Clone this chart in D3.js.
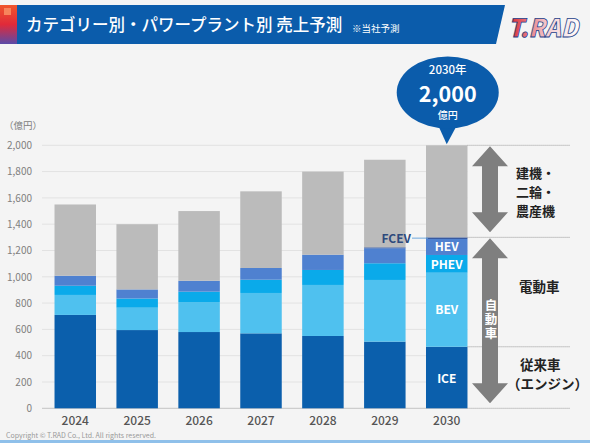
<!DOCTYPE html>
<html>
<head>
<meta charset="utf-8">
<script src="https://cdn.jsdelivr.net/npm/d3@7"></script>
<style>
  body { margin: 0; background: #f4f4f4; }
  text { font-family: "Noto Sans CJK JP", "Noto Sans", sans-serif; }
</style>
</head>
<body>
<div id="chart"></div>
<script>
// sales by category / power plant (100M yen)
var years = ["2024", "2025", "2026", "2027", "2028", "2029", "2030"];
var ice  = [710, 595, 580, 570, 550, 507, 468];
var bev  = [152, 170, 228, 307, 388, 469, 563];
var phev = [70, 70, 79, 101, 114, 127, 135];
var hev  = [76, 69, 83, 89, 116, 114, 122];
var fcev = [0, 0, 0, 0, 0, 7, 12];
var other = [542, 496, 530, 583, 632, 666, 700];
var yTicks = [0, 200, 400, 600, 800, 1000, 1200, 1400, 1600, 1800, 2000];

var width = 590, height = 443;

var svg = d3.select("#chart").append("svg")
    .attr("width", width)
    .attr("height", height);

var defs = svg.append("defs");
var g1 = defs.append("linearGradient").attr("id", "stripe").attr("x1", 0).attr("y1", 0).attr("x2", 0).attr("y2", 1);
g1.append("stop").attr("offset", "0%").attr("stop-color", "#f0562c");
g1.append("stop").attr("offset", "50%").attr("stop-color", "#e02a3a");
g1.append("stop").attr("offset", "100%").attr("stop-color", "#5a4aa8");
var g2 = defs.append("linearGradient").attr("id", "logo").attr("x1", 0).attr("y1", 0).attr("x2", 1).attr("y2", 0);
g2.append("stop").attr("offset", "0%").attr("stop-color", "#d8202a");
g2.append("stop").attr("offset", "55%").attr("stop-color", "#f4d0d4");
g2.append("stop").attr("offset", "100%").attr("stop-color", "#ffffff");

// background + bottom line
svg.append("rect").attr("width", width).attr("height", height).attr("fill", "#f4f4f4");
svg.append("rect").attr("x", 0).attr("y", 440).attr("width", width).attr("height", 3).attr("fill", "#8fc0ea");

// header band
svg.append("path")
    .attr("d", "M0,5 L505,5 L496,44 L0,44 Z")
    .attr("fill", "#0b5cab");
svg.append("rect").attr("x", 0).attr("y", 5).attr("width", 17).attr("height", 39).attr("fill", "url(#stripe)");
svg.append("rect").attr("x", 4).attr("y", 8).attr("width", 7).attr("height", 7).attr("fill", "#f7845c");
svg.append("text")
    .attr("x", 26).attr("y", 31)
    .attr("fill", "#fff").attr("font-size", 16.5).attr("font-weight", 500)
    .text("カテゴリー別・パワープラント別 売上予測");
svg.append("text")
    .attr("x", 352).attr("y", 32)
    .attr("fill", "#fff").attr("font-size", 9.5)
    .text("※当社予測");
svg.append("text")
    .attr("x", 508).attr("y", 37)
    .attr("font-size", 25).attr("font-weight", 900).attr("font-style", "italic")
    .attr("font-family", "DejaVu Sans")
    .attr("textLength", 70).attr("lengthAdjust", "spacingAndGlyphs")
    .attr("fill", "url(#logo)").attr("stroke", "#1b3f8a").attr("stroke-width", 0.8)
    .text("T.RAD");

// scales
var x = d3.scaleBand().domain(years).range([44, 478]).paddingInner(0.33).paddingOuter(0.17);
var y = d3.scaleLinear().domain([0, 2000]).range([408.3, 145.3]);

// gridlines
svg.append("g").selectAll("line")
  .data(yTicks)
  .enter().append("line")
    .attr("x1", 42).attr("x2", x("2030") + x.bandwidth())
    .attr("y1", function(d){ return y(d); })
    .attr("y2", function(d){ return y(d); })
    .attr("stroke", function(d){ return d === 0 ? "#c4c4c4" : "#e2e2e2"; })
    .attr("stroke-width", 1);

// y axis labels
var yAxis = d3.axisLeft(y).tickValues(yTicks).tickSize(0).tickPadding(0).tickFormat(d3.format(","));
var ya = svg.append("g").attr("transform", "translate(32,0)").call(yAxis);
ya.select(".domain").remove();
ya.selectAll("text")
    .attr("fill", "#808080").attr("font-size", 10)
    .attr("font-family", "Noto Sans CJK JP");
svg.append("text")
    .attr("x", 4).attr("y", 129)
    .attr("fill", "#808080").attr("font-size", 9.5)
    .text("（億円）");

// stacked bars
var table = years.map(function(yr, i){
  return { year: yr, ice: ice[i], bev: bev[i], phev: phev[i], hev: hev[i], fcev: fcev[i], other: other[i] };
});
var keys = ["ice", "bev", "phev", "hev", "fcev", "other"];
var colors = { ice: "#0b5fac", bev: "#4fc1ef", phev: "#0aaaea", hev: "#4f81d0", fcev: "#2b4f9a", other: "#bbbbbb" };
var series = d3.stack().keys(keys)(table);

svg.append("g").selectAll("g")
  .data(series)
  .enter().append("g")
    .attr("fill", function(d){ return colors[d.key]; })
  .selectAll("rect")
  .data(function(d){ return d; })
  .enter().append("rect")
    .attr("x", function(d){ return x(d.data.year); })
    .attr("width", x.bandwidth())
    .attr("y", function(d){ return y(d[1]); })
    .attr("height", function(d){ return y(d[0]) - y(d[1]); });

// x axis labels
var xAxis = d3.axisBottom(x).tickSize(0).tickPadding(0);
var xa = svg.append("g").attr("transform", "translate(0,416)").call(xAxis);
xa.select(".domain").remove();
xa.selectAll("text")
    .attr("fill", "#555").attr("font-size", 12).attr("font-weight", 500)
    .attr("font-family", "Noto Sans CJK JP");

// segment labels on 2030
var last = table[table.length - 1];
var cx = x("2030") + x.bandwidth() / 2;
var segLabels = [
  { t: "HEV",  v: last.ice + last.bev + last.phev + last.hev / 2 + 1 },
  { t: "PHEV", v: last.ice + last.bev + last.phev / 2 - 3 },
  { t: "BEV",  v: last.ice + last.bev / 2 },
  { t: "ICE",  v: last.ice / 2 - 5 }
];
svg.append("g").selectAll("text")
  .data(segLabels)
  .enter().append("text")
    .attr("x", cx)
    .attr("y", function(d){ return y(d.v); })
    .attr("dy", "0.36em")
    .attr("text-anchor", "middle")
    .attr("fill", "#fff").attr("font-size", 12).attr("font-weight", 700)
    .attr("font-family", "Roboto")
    .text(function(d){ return d.t; });

// FCEV label + leader
var fcevY = y(last.ice + last.bev + last.phev + last.hev + last.fcev / 2);
svg.append("line")
    .attr("x1", 412).attr("x2", x("2030") + 2)
    .attr("y1", fcevY).attr("y2", fcevY)
    .attr("stroke", "#6fa8dc").attr("stroke-width", 1);
svg.append("text")
    .attr("x", 411).attr("y", fcevY + 1)
    .attr("dy", "0.36em")
    .attr("text-anchor", "end")
    .attr("fill", "#2e4a7d").attr("font-size", 12).attr("font-weight", 700)
    .attr("font-family", "Roboto")
    .text("FCEV");

// dotted guide lines to the right
var total = 2000, autos = 1300;
var guideVals = [total, autos, last.ice, 0];
var xr = x("2030") + x.bandwidth();
svg.append("g").selectAll("line")
  .data(guideVals)
  .enter().append("line")
    .attr("x1", xr).attr("x2", 570)
    .attr("y1", function(d){ return y(d); })
    .attr("y2", function(d){ return y(d); })
    .attr("stroke", "#999").attr("stroke-width", 1)
    .attr("stroke-dasharray", "1,1");

// double arrows
function dblArrow(cxA, y0, y1) {
  var hw = 18, sw = 8, hh = 20;
  return "M" + cxA + "," + y0 +
    " L" + (cxA + hw) + "," + (y0 + hh) +
    " L" + (cxA + sw) + "," + (y0 + hh) +
    " L" + (cxA + sw) + "," + (y1 - hh) +
    " L" + (cxA + hw) + "," + (y1 - hh) +
    " L" + cxA + "," + y1 +
    " L" + (cxA - hw) + "," + (y1 - hh) +
    " L" + (cxA - sw) + "," + (y1 - hh) +
    " L" + (cxA - sw) + "," + (y0 + hh) +
    " L" + (cxA - hw) + "," + (y0 + hh) + " Z";
}
svg.append("path").attr("d", dblArrow(490, y(total) + 1, y(autos) - 5)).attr("fill", "#7f7f7f");
svg.append("path").attr("d", dblArrow(490, y(autos) + 1, y(0) - 5)).attr("fill", "#7f7f7f");

// vertical label in lower arrow
svg.append("text")
    .attr("x", 491).attr("y", 299)
    .style("writing-mode", "vertical-rl")
    .attr("fill", "#fff").attr("font-size", 12.5).attr("font-weight", 700)
    .attr("letter-spacing", 1.5)
    .text("自動車");

// right side labels
var rightLabels = [
  { t: "建機・", x: 516, y: 173, s: 13 },
  { t: "二輪・", x: 516, y: 192, s: 13 },
  { t: "農産機", x: 516, y: 211, s: 13 },
  { t: "電動車", x: 519, y: 287, s: 13.5 },
  { t: "従来車", x: 520, y: 365, s: 13.5 },
  { t: "（エンジン）", x: 507, y: 384, s: 13.5 }
];
svg.append("g").selectAll("text")
  .data(rightLabels)
  .enter().append("text")
    .attr("x", function(d){ return d.x; })
    .attr("y", function(d){ return d.y; })
    .attr("dy", "0.36em")
    .attr("fill", "#222").attr("font-weight", 700)
    .attr("font-size", function(d){ return d.s; })
    .text(function(d){ return d.t; });

// speech bubble
var bx = cx + 1;
svg.append("path")
    .attr("d", "M" + (bx - 12) + ",120 L" + (cx) + "," + (y(total) - 1) + " L" + (bx + 12) + ",120 Z")
    .attr("fill", "#0b5cab");
svg.append("ellipse")
    .attr("cx", bx).attr("cy", 92.5).attr("rx", 51).attr("ry", 36)
    .attr("fill", "#0b5cab");
var bubble = svg.append("text")
    .attr("text-anchor", "middle").attr("fill", "#fff")
    .attr("font-weight", 500);
bubble.append("tspan")
    .attr("x", bx).attr("y", 73.5)
    .attr("font-size", 11.5)
    .text("2030年");
bubble.append("tspan")
    .attr("x", bx).attr("y", 101.5)
    .attr("font-size", 21.5).attr("font-weight", 700)
    .text(d3.format(",")(total));
bubble.append("tspan")
    .attr("x", bx).attr("y", 119)
    .attr("font-size", 10)
    .text("億円");

// copyright
svg.append("text")
    .attr("x", 6).attr("y", 438)
    .attr("fill", "#999").attr("font-size", 7)
    .text("Copyright © T.RAD Co., Ltd. All rights reserved.");
</script>
</body>
</html>
